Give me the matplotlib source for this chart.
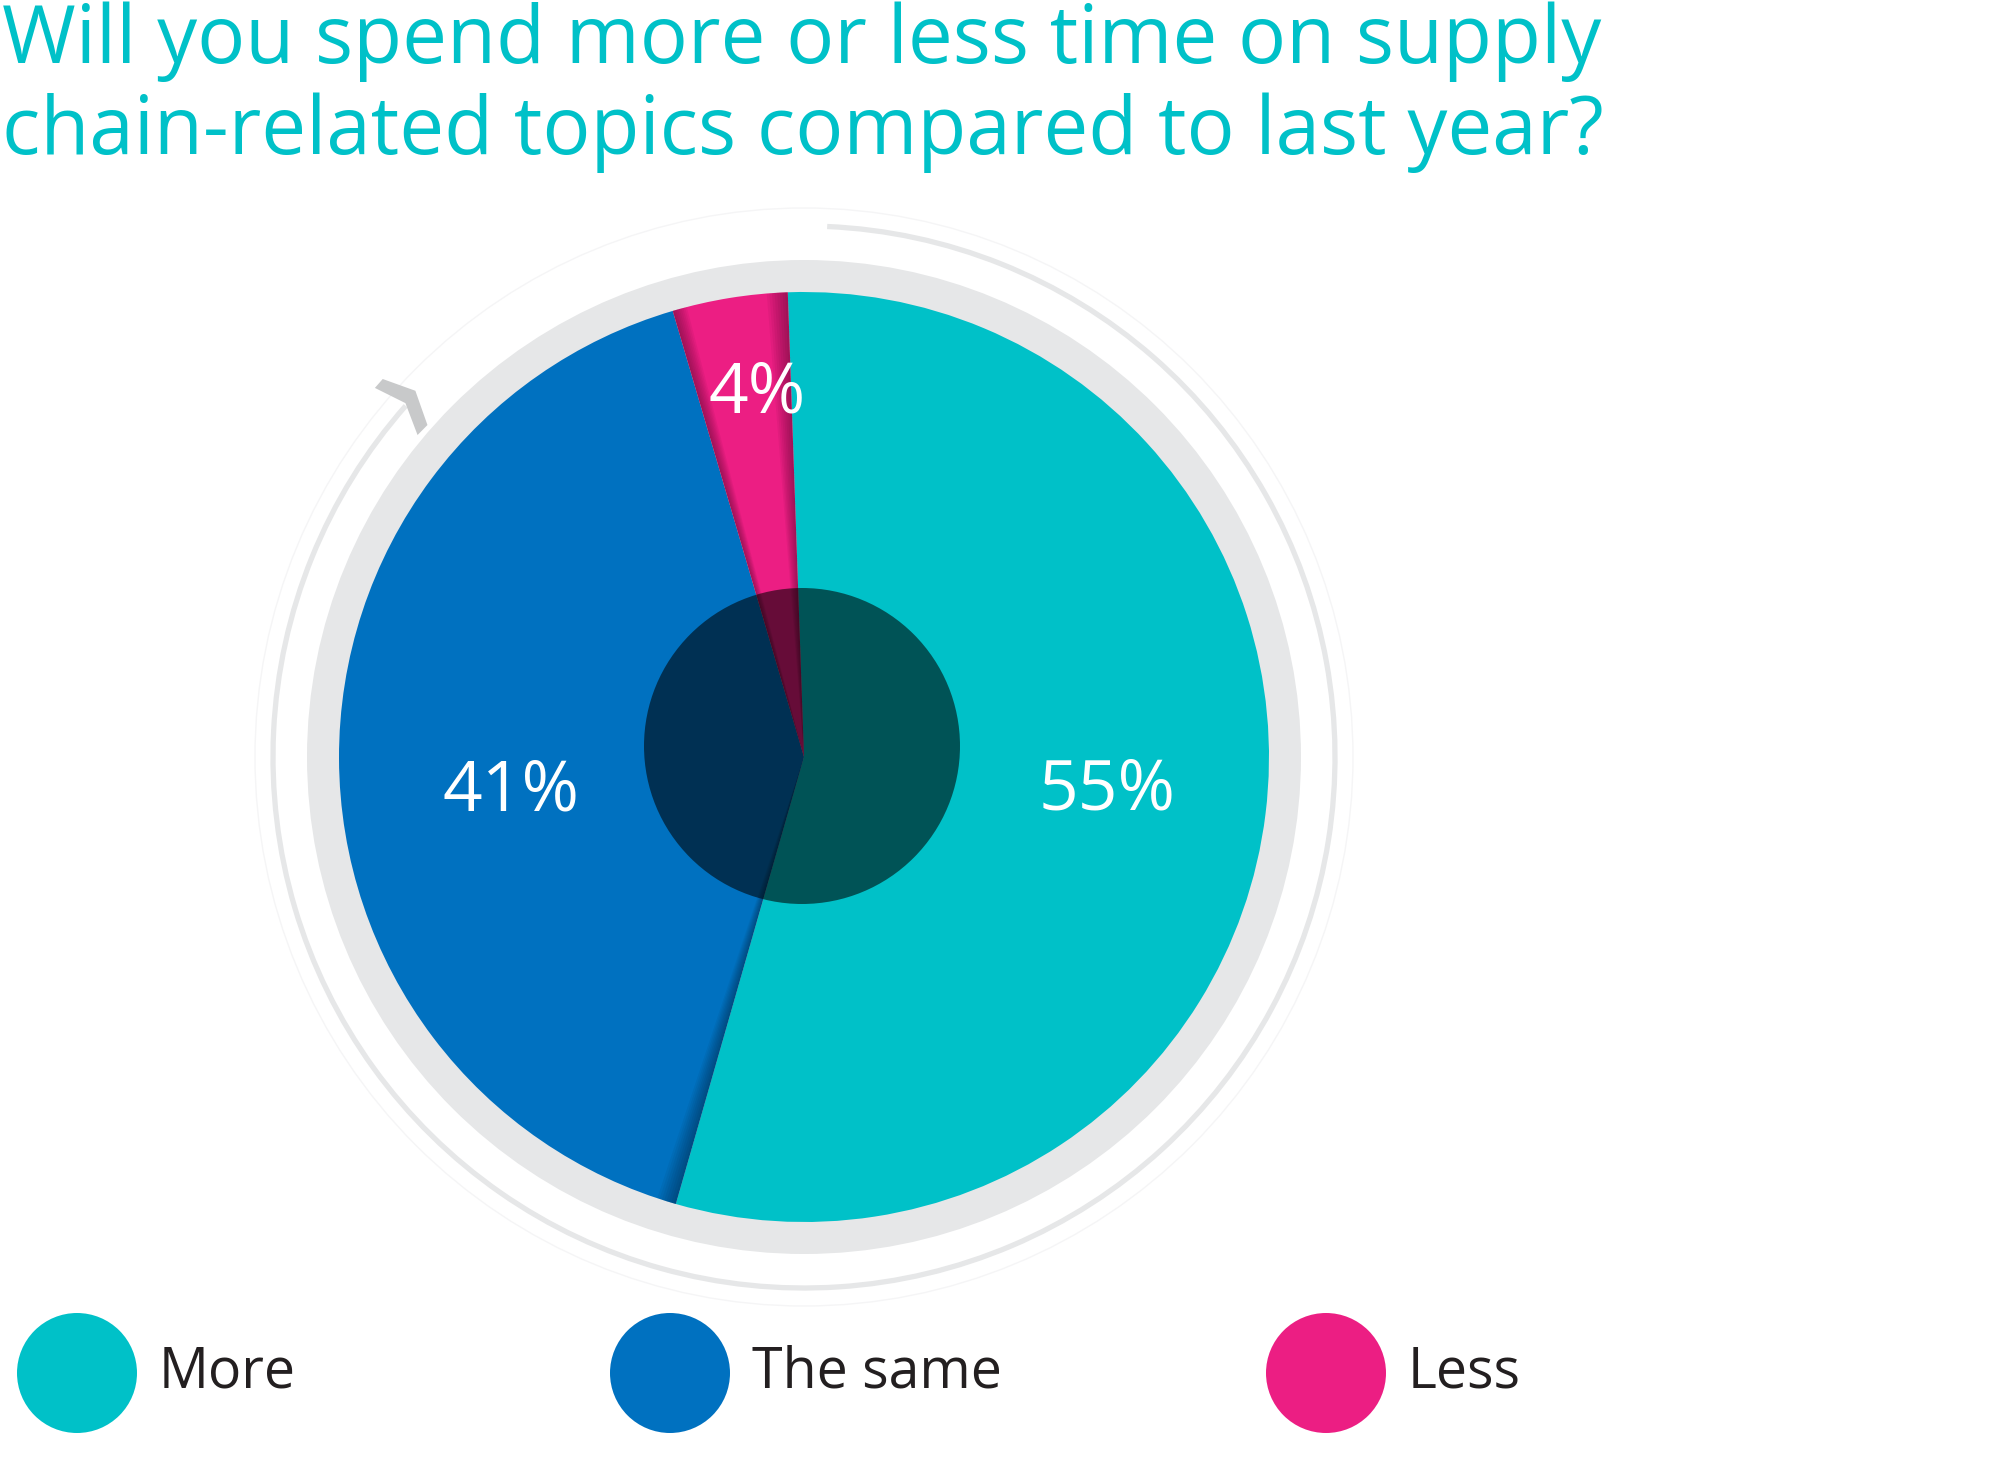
"""
Donut-style pie: time spent on supply chain topics vs last year.
Saves out.png (2000x1466).
"""
import numpy as np
import matplotlib.pyplot as plt
from matplotlib.patches import Circle, Wedge, Arc, Polygon

# ── DATA ────────────────────────────────────────────────
TITLE_LINES = ['Will you spend more or less time on supply',
               'chain-related topics compared to last year?']
CATEGORIES = ['More', 'The same', 'Less']
VALUES = [55, 41, 4]                     # percent
COLORS = ['#00C1C8', '#0071C0', '#EC1E83']

# ── STYLE / LAYOUT (pixels, y up) ───────────────────────
W, H = 2000, 1466
CX, CY = 804, 709          # pie centre
R_PIE = 465
R_RING = 497               # grey ring behind the pie
R_ARC = 531                # thin arrow arc
R_FAINT = 549              # very faint outer circle
HOLE_C = (802, 720)        # dark inner disc (slightly off centre like the original)
HOLE_R = 158
START_ANGLE = 92
# where each percentage sits: (angle in degrees, fraction of radius)
LABEL_POS = [(-5.1, 0.654), (185.5, 0.633), (97.2, 0.80)]
TEAL = '#00C1C8'
GREY = '#E6E7E8'
TEXT_DARK = '#231F20'
FONT = ['Open Sans', 'DejaVu Sans']

LEGEND_X = [77, 670, 1326]
LEGEND_Y = 93
LEGEND_R = 60
LEGEND_TEXT_DX = 82

plt.rcParams['font.family'] = FONT

fig = plt.figure(figsize=(W / 100, H / 100), dpi=100)
fig.patch.set_facecolor('white')
ax = fig.add_axes([0, 0, 1, 1])

# background rings
ax.add_patch(Circle((CX, CY), R_FAINT, fill=False, edgecolor='#F5F5F6', linewidth=1.0, zorder=0))
ax.add_patch(Arc((CX, CY), 2 * R_ARC, 2 * R_ARC, theta1=138.6, theta2=87.5,
                 edgecolor=GREY, linewidth=3.8, zorder=0))
# arrow head on the arc (polar offsets: radius, angle)
head = [(566, 138.1), (534, 136.7), (502, 138.6), (503, 140.2), (533, 138.4), (566, 139.3)]
head_xy = [(CX + r * np.cos(np.radians(a)), CY + r * np.sin(np.radians(a))) for r, a in head]
ax.add_patch(Polygon(head_xy, closed=True, facecolor='#C8C9CA', edgecolor='none', zorder=0))
ax.add_patch(Circle((CX, CY), R_RING, facecolor=GREY, edgecolor='none', zorder=1))

# the pie itself
wedges, _ = ax.pie(VALUES, colors=COLORS, startangle=START_ANGLE, counterclock=False,
                   radius=R_PIE, center=(CX, CY), wedgeprops=dict(linewidth=0, zorder=2))


def edge_shade(t_edge, width, side, steps=8, alpha=0.045):
    """darken a slice near one of its edges with stacked thin wedges"""
    for k in range(1, steps + 1):
        w = width * k / steps
        t1, t2 = (t_edge, t_edge + w) if side > 0 else (t_edge - w, t_edge)
        ax.add_patch(Wedge((CX, CY), R_PIE, t1, t2, facecolor='black',
                           edgecolor='none', alpha=alpha, zorder=3))


pink, blue = wedges[2], wedges[1]
edge_shade(pink.theta1, 2.6, +1)          # pink next to teal
edge_shade(pink.theta2, 1.8, -1)          # pink next to blue
edge_shade(blue.theta2, 2.4, -1)          # blue next to teal

# dark inner disc
ax.add_patch(Circle(HOLE_C, HOLE_R, facecolor='black', edgecolor='none', alpha=0.57, zorder=4))

# percentage labels
for v, (ang, lr) in zip(VALUES, LABEL_POS):
    a = np.radians(ang)
    x = CX + R_PIE * lr * np.cos(a)
    y = CY + R_PIE * lr * np.sin(a)
    ax.text(x, y - 25, f'{v}%', color='white', fontsize=50,
            ha='center', va='baseline', zorder=5)

# title
for i, line in enumerate(TITLE_LINES):
    ax.text(2, H - 63 - i * 91, line, color=TEAL, fontsize=57.5,
            ha='left', va='baseline')

# legend
for x, lab, col in zip(LEGEND_X, CATEGORIES, COLORS):
    ax.add_patch(Circle((x, LEGEND_Y), LEGEND_R, facecolor=col, edgecolor='none'))
    ax.text(x + LEGEND_TEXT_DX, LEGEND_Y - 15, lab, color=TEXT_DARK, fontsize=40,
            ha='left', va='baseline')

ax.set_xlim(0, W)
ax.set_ylim(0, H)
ax.set_aspect('equal')
ax.axis('off')

fig.savefig('out.png', dpi=100, facecolor='white')
